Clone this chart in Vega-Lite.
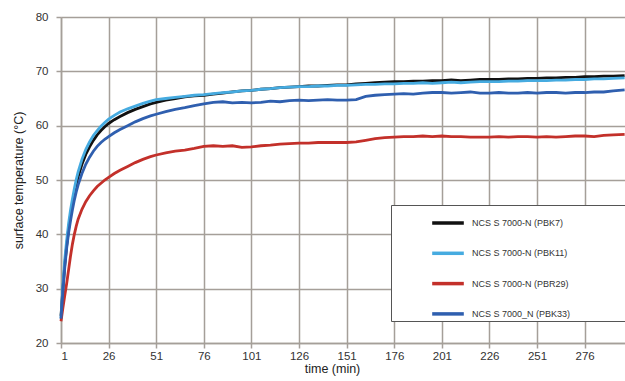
{
  "$schema": "https://vega.github.io/schema/vega-lite/v6.json",
  "width": 564,
  "height": 326,
  "autosize": {"type": "none"},
  "padding": {"left": 61, "top": 17, "right": 0, "bottom": 38},
  "background": "white",
  "config": {
    "font": "Liberation Sans",
    "view": {"stroke": null},
    "axis": {
      "grid": true,
      "gridColor": "#a59f99",
      "gridWidth": 1.5,
      "domainColor": "#a59f99",
      "domainWidth": 1.5,
      "tickColor": "#a59f99",
      "tickWidth": 1.5,
      "tickSize": 5,
      "labelFont": "Liberation Sans",
      "labelFontSize": 11.5,
      "labelColor": "#333333",
      "titleFont": "Liberation Sans",
      "titleFontSize": 12.5,
      "titleFontWeight": "normal",
      "titleColor": "#222222"
    }
  },
  "datasets": {
    "pbk7": [
      {"t":1,"v":25},{"t":2,"v":30},{"t":3,"v":34.5},{"t":4,"v":38},{"t":5,"v":41},{"t":6,"v":43.5},{"t":7,"v":45.5},{"t":8,"v":47.5},{"t":9,"v":49.2},{"t":10,"v":50.6},
      {"t":12,"v":52.9},{"t":14,"v":54.7},{"t":16,"v":56.1},{"t":18,"v":57.3},{"t":20,"v":58.3},{"t":22,"v":59.1},{"t":24,"v":59.8},{"t":26,"v":60.4},{"t":29,"v":61.1},{"t":32,"v":61.7},
      {"t":36,"v":62.4},{"t":40,"v":63.0},{"t":44,"v":63.5},{"t":48,"v":64.0},{"t":51,"v":64.3},{"t":56,"v":64.7},{"t":61,"v":65.0},{"t":66,"v":65.3},{"t":71,"v":65.5},{"t":76,"v":65.6},
      {"t":81,"v":65.8},{"t":86,"v":66.0},{"t":91,"v":66.2},{"t":96,"v":66.4},{"t":101,"v":66.5},{"t":106,"v":66.7},{"t":111,"v":66.8},{"t":116,"v":67.0},{"t":121,"v":67.1},{"t":126,"v":67.2},
      {"t":131,"v":67.3},{"t":136,"v":67.3},{"t":141,"v":67.4},{"t":146,"v":67.5},{"t":151,"v":67.5},{"t":156,"v":67.7},{"t":161,"v":67.8},{"t":166,"v":67.9},{"t":171,"v":68.0},{"t":176,"v":68.1},
      {"t":181,"v":68.1},{"t":186,"v":68.2},{"t":191,"v":68.2},{"t":196,"v":68.3},{"t":201,"v":68.3},{"t":206,"v":68.4},{"t":211,"v":68.3},{"t":216,"v":68.4},{"t":221,"v":68.5},{"t":226,"v":68.5},
      {"t":231,"v":68.5},{"t":236,"v":68.6},{"t":241,"v":68.6},{"t":246,"v":68.7},{"t":251,"v":68.7},{"t":256,"v":68.8},{"t":261,"v":68.8},{"t":266,"v":68.9},{"t":271,"v":68.9},{"t":276,"v":69.0},
      {"t":281,"v":69.0},{"t":286,"v":69.1},{"t":291,"v":69.1},{"t":297,"v":69.2}
    ],
    "pbk11": [
      {"t":1,"v":24.5},{"t":2,"v":30.5},{"t":3,"v":35.5},{"t":4,"v":39},{"t":5,"v":42},{"t":6,"v":44.5},{"t":7,"v":46.5},{"t":8,"v":48.4},{"t":9,"v":50.1},{"t":10,"v":51.5},
      {"t":12,"v":53.8},{"t":14,"v":55.6},{"t":16,"v":57.0},{"t":18,"v":58.2},{"t":20,"v":59.1},{"t":22,"v":59.9},{"t":24,"v":60.6},{"t":26,"v":61.2},{"t":29,"v":61.9},{"t":32,"v":62.5},
      {"t":36,"v":63.1},{"t":40,"v":63.6},{"t":44,"v":64.1},{"t":48,"v":64.5},{"t":51,"v":64.8},{"t":56,"v":65.0},{"t":61,"v":65.2},{"t":66,"v":65.4},{"t":71,"v":65.6},{"t":76,"v":65.7},
      {"t":81,"v":65.9},{"t":86,"v":66.1},{"t":91,"v":66.2},{"t":96,"v":66.4},{"t":101,"v":66.5},{"t":106,"v":66.7},{"t":111,"v":66.8},{"t":116,"v":67.0},{"t":121,"v":67.1},{"t":126,"v":67.2},
      {"t":131,"v":67.2},{"t":136,"v":67.3},{"t":141,"v":67.3},{"t":146,"v":67.4},{"t":151,"v":67.4},{"t":156,"v":67.5},{"t":161,"v":67.6},{"t":166,"v":67.6},{"t":171,"v":67.7},{"t":176,"v":67.7},
      {"t":181,"v":67.8},{"t":186,"v":67.8},{"t":191,"v":67.9},{"t":196,"v":67.8},{"t":201,"v":67.9},{"t":206,"v":68.0},{"t":211,"v":67.9},{"t":216,"v":68.0},{"t":221,"v":68.1},{"t":226,"v":68.1},
      {"t":231,"v":68.1},{"t":236,"v":68.2},{"t":241,"v":68.2},{"t":246,"v":68.3},{"t":251,"v":68.3},{"t":256,"v":68.3},{"t":261,"v":68.4},{"t":266,"v":68.4},{"t":271,"v":68.5},{"t":276,"v":68.5},
      {"t":281,"v":68.6},{"t":286,"v":68.6},{"t":291,"v":68.7},{"t":297,"v":68.8}
    ],
    "pbr29": [
      {"t":1,"v":24},{"t":2,"v":26.5},{"t":3,"v":28.8},{"t":4,"v":31},{"t":5,"v":33.5},{"t":6,"v":36},{"t":7,"v":38.2},{"t":8,"v":40},{"t":9,"v":41.5},{"t":10,"v":42.8},
      {"t":12,"v":44.6},{"t":14,"v":46},{"t":16,"v":47.1},{"t":18,"v":48},{"t":20,"v":48.8},{"t":22,"v":49.4},{"t":24,"v":50},{"t":26,"v":50.5},{"t":29,"v":51.2},{"t":32,"v":51.8},
      {"t":36,"v":52.5},{"t":40,"v":53.2},{"t":44,"v":53.8},{"t":48,"v":54.3},{"t":51,"v":54.6},{"t":56,"v":55.0},{"t":61,"v":55.3},{"t":66,"v":55.5},{"t":71,"v":55.8},{"t":76,"v":56.2},
      {"t":81,"v":56.3},{"t":86,"v":56.2},{"t":91,"v":56.3},{"t":96,"v":56.0},{"t":101,"v":56.1},{"t":106,"v":56.3},{"t":111,"v":56.4},{"t":116,"v":56.6},{"t":121,"v":56.7},{"t":126,"v":56.8},
      {"t":131,"v":56.8},{"t":136,"v":56.9},{"t":141,"v":56.9},{"t":146,"v":56.9},{"t":151,"v":56.9},{"t":156,"v":57.0},{"t":161,"v":57.3},{"t":166,"v":57.6},{"t":171,"v":57.8},{"t":176,"v":57.9},
      {"t":181,"v":58.0},{"t":186,"v":58.0},{"t":191,"v":58.1},{"t":196,"v":58.0},{"t":201,"v":58.1},{"t":206,"v":58.0},{"t":211,"v":58.0},{"t":216,"v":57.9},{"t":221,"v":57.9},{"t":226,"v":57.9},
      {"t":231,"v":58.0},{"t":236,"v":57.9},{"t":241,"v":58.0},{"t":246,"v":58.0},{"t":251,"v":57.9},{"t":256,"v":58.0},{"t":261,"v":57.9},{"t":266,"v":58.0},{"t":271,"v":58.1},{"t":276,"v":58.1},
      {"t":281,"v":58.0},{"t":286,"v":58.2},{"t":291,"v":58.3},{"t":297,"v":58.4}
    ],
    "pbk33": [
      {"t":1,"v":24.5},{"t":2,"v":29.5},{"t":3,"v":34},{"t":4,"v":37.5},{"t":5,"v":40.3},{"t":6,"v":42.5},{"t":7,"v":44.5},{"t":8,"v":46.3},{"t":9,"v":47.8},{"t":10,"v":49.1},
      {"t":12,"v":51.2},{"t":14,"v":52.9},{"t":16,"v":54.2},{"t":18,"v":55.3},{"t":20,"v":56.2},{"t":22,"v":56.9},{"t":24,"v":57.5},{"t":26,"v":58.0},{"t":29,"v":58.7},{"t":32,"v":59.3},
      {"t":36,"v":60.0},{"t":40,"v":60.7},{"t":44,"v":61.3},{"t":48,"v":61.8},{"t":51,"v":62.1},{"t":56,"v":62.6},{"t":61,"v":63.0},{"t":66,"v":63.3},{"t":71,"v":63.7},{"t":76,"v":64.0},
      {"t":81,"v":64.3},{"t":86,"v":64.4},{"t":91,"v":64.2},{"t":96,"v":64.3},{"t":101,"v":64.2},{"t":106,"v":64.3},{"t":111,"v":64.5},{"t":116,"v":64.4},{"t":121,"v":64.6},{"t":126,"v":64.7},
      {"t":131,"v":64.6},{"t":136,"v":64.7},{"t":141,"v":64.8},{"t":146,"v":64.7},{"t":151,"v":64.7},{"t":156,"v":64.8},{"t":161,"v":65.4},{"t":166,"v":65.6},{"t":171,"v":65.7},{"t":176,"v":65.8},
      {"t":181,"v":65.9},{"t":186,"v":65.8},{"t":191,"v":66.0},{"t":196,"v":66.1},{"t":201,"v":66.1},{"t":206,"v":66.0},{"t":211,"v":66.1},{"t":216,"v":66.2},{"t":221,"v":66.0},{"t":226,"v":66.0},
      {"t":231,"v":66.1},{"t":236,"v":66.0},{"t":241,"v":66.0},{"t":246,"v":66.1},{"t":251,"v":66.0},{"t":256,"v":66.1},{"t":261,"v":66.1},{"t":266,"v":66.0},{"t":271,"v":66.1},{"t":276,"v":66.1},
      {"t":281,"v":66.2},{"t":286,"v":66.2},{"t":291,"v":66.4},{"t":297,"v":66.6}
    ]
  },
  "encoding": {
    "x": {
      "field": "t", "type": "quantitative",
      "scale": {"domain": [1, 297.2], "nice": false, "zero": false},
      "axis": {
        "values": [1, 26, 51, 76, 101, 126, 151, 176, 201, 226, 251, 276],
        "title": "time (min)",
        "labelPadding": 2,
        "titlePadding": 1,
        "titleX": 271
      }
    },
    "y": {
      "field": "v", "type": "quantitative",
      "scale": {"domain": [20, 80], "nice": false, "zero": false},
      "axis": {
        "values": [20, 30, 40, 50, 60, 70, 80],
        "title": "surface temperature (°C)",
        "labelPadding": 8,
        "titlePadding": 10
      }
    }
  },
  "layer": [
    {"data": {"name": "pbk7"}, "mark": {"type": "line", "strokeWidth": 2.8}, "encoding": {"color": {"datum": "NCS S 7000-N (PBK7)"}}},
    {"data": {"name": "pbk11"}, "mark": {"type": "line", "strokeWidth": 2.8}, "encoding": {"color": {"datum": "NCS S 7000-N (PBK11)"}}},
    {"data": {"name": "pbr29"}, "mark": {"type": "line", "strokeWidth": 2.8}, "encoding": {"color": {"datum": "NCS S 7000-N (PBR29)"}}},
    {"data": {"name": "pbk33"}, "mark": {"type": "line", "strokeWidth": 2.8}, "encoding": {
      "color": {
        "datum": "NCS S 7000_N (PBK33)",
        "scale": {
          "domain": ["NCS S 7000-N (PBK7)", "NCS S 7000-N (PBK11)", "NCS S 7000-N (PBR29)", "NCS S 7000_N (PBK33)"],
          "range": ["#111111", "#46abe0", "#c3302a", "#2f5faf"]
        },
        "legend": {
          "orient": "none",
          "legendX": 330,
          "legendY": 188,
          "title": " ",
          "titleOrient": "right",
          "titleFontSize": 9,
          "titlePadding": 60,
          "padding": 0,
          "symbolOffset": 39,
          "symbolType": "stroke",
          "symbolSize": 1000,
          "symbolStrokeWidth": 3.5,
          "labelOffset": 6,
          "labelFontSize": 9,
          "labelColor": "#333333",
          "labelFont": "Liberation Sans",
          "rowPadding": 5.3,
          "fillColor": "white",
          "strokeColor": "#555555"
        }
      }
    }}
  ]
}
